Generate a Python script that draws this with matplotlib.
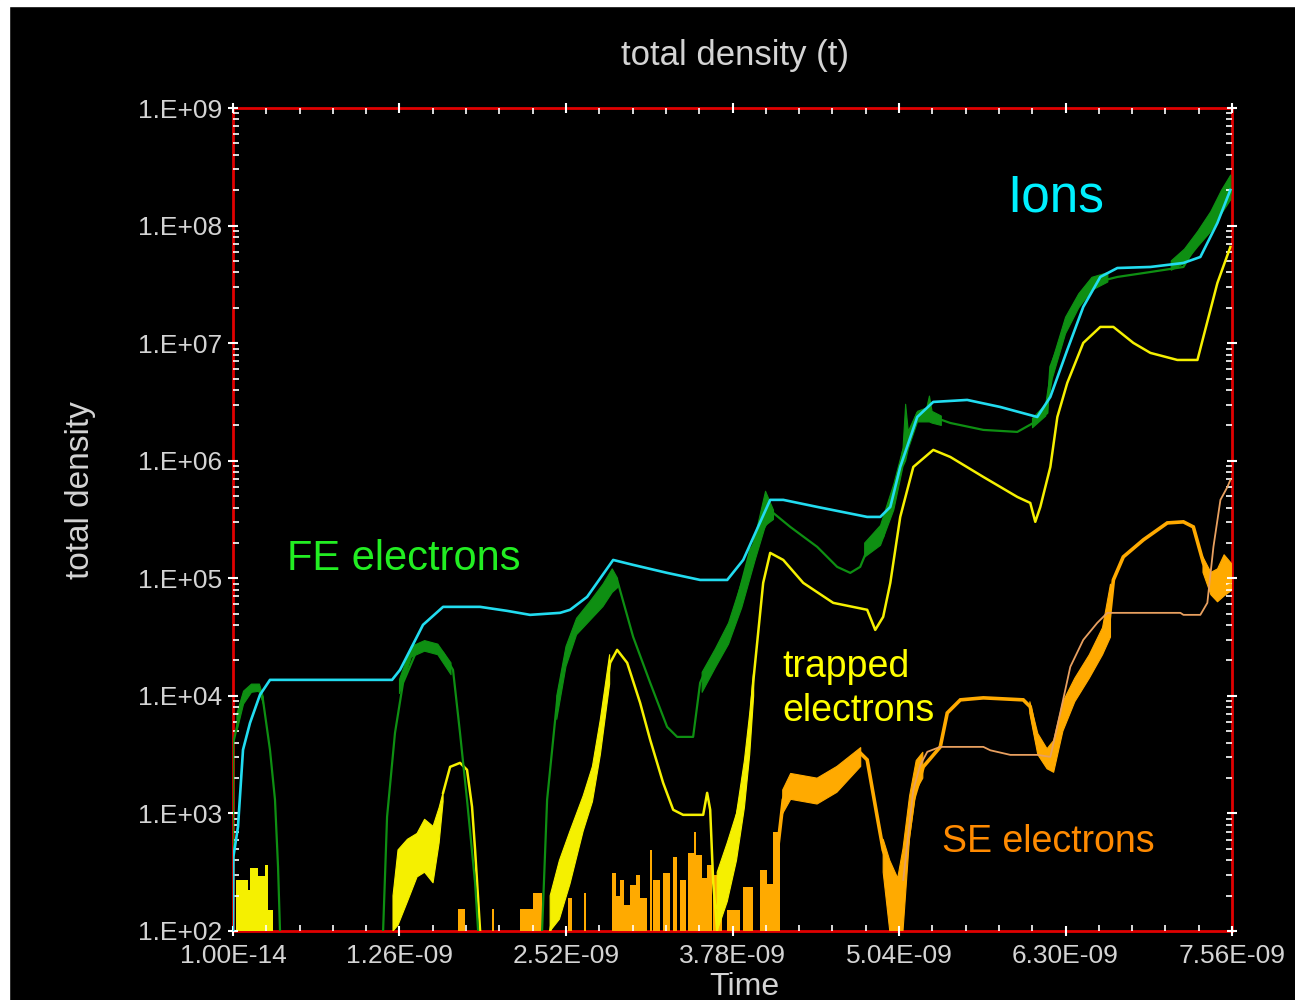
import numpy as np
import matplotlib
matplotlib.use("Agg")
import matplotlib.pyplot as plt
from matplotlib import font_manager
from matplotlib.patches import Rectangle
from matplotlib.ticker import FixedLocator, LogLocator, NullFormatter

NAN = np.nan

# ---------------- data (time in ns, density as log10) ----------------
ions_t = [0.0, 0.003, 0.038, 0.076, 0.129, 0.204, 0.280, 1.204, 1.264, 1.438, 1.590, 1.870,
          2.074, 2.248, 2.475, 2.551, 2.680, 2.877, 3.028, 3.285, 3.535, 3.740, 3.861, 4.065,
          4.164, 4.421, 4.799, 4.898, 4.974, 5.049, 5.178, 5.299, 5.556, 5.806, 6.086, 6.185,
          6.313, 6.434, 6.563, 6.692, 6.942, 7.192, 7.320, 7.449, 7.547]
ions_log = [2.0, 2.63, 2.886, 3.541, 3.770, 4.008, 4.136, 4.136, 4.221, 4.604, 4.757, 4.757,
            4.723, 4.689, 4.706, 4.732, 4.842, 5.156, 5.114, 5.046, 4.986, 4.986, 5.156, 5.667,
            5.667, 5.607, 5.522, 5.522, 5.607, 5.947, 6.372, 6.500, 6.517, 6.457, 6.372, 6.543,
            6.942, 7.308, 7.563, 7.639, 7.648, 7.682, 7.733, 8.022, 8.303]

fe_t = [0.0, 0.002, 0.030, 0.076, 0.182, 0.227, 0.280, 0.318, 0.341, 0.356, NAN,
        1.136, 1.166, 1.226, 1.287, 1.393, 1.514, 1.590, 1.665, 1.718, 1.771, 1.832, 1.855, NAN,
        2.339, 2.377, 2.453, 2.528, 2.650, 2.778, 2.907, 3.028, 3.157, 3.285, 3.361, 3.482,
        3.535, 3.588, 3.740, 3.815, 3.914, 4.088, 4.217, 4.421, 4.572, 4.671, 4.746, 4.799,
        4.920, 4.996, 5.072, 5.178, 5.299, 5.428, 5.678, 5.935, 6.056, 6.162, 6.185, 6.313,
        6.434, 6.510, 6.692, 6.942, 7.192, 7.267, 7.396, 7.525, 7.563]
fe_log = [2.0, 3.600, 3.736, 3.991, 4.085, 3.966, 3.541, 3.116, 2.546, 2.0, NAN,
          2.0, 2.971, 3.685, 4.111, 4.391, 4.417, 4.366, 4.221, 3.685, 3.116, 2.410, 2.0, NAN,
          2.0, 3.116, 3.966, 4.391, 4.672, 4.816, 4.986, 4.502, 4.111, 3.736, 3.651, 3.651,
          4.111, 4.247, 4.502, 4.816, 5.241, 5.556, 5.437, 5.267, 5.097, 5.046, 5.097, 5.241,
          5.352, 5.667, 6.092, 6.406, 6.372, 6.321, 6.262, 6.245, 6.321, 6.406, 6.798, 7.172,
          7.393, 7.512, 7.563, 7.605, 7.648, 7.793, 7.988, 8.218, 8.303]

fe_band_t = [0.03, 0.08, 0.14, 0.20, 0.23, NAN,
             1.26, 1.35, 1.45, 1.55, 1.65, NAN,
             2.45, 2.52, 2.60, 2.70, 2.80, 2.87, 2.91, NAN,
             3.55, 3.65, 3.75, 3.85, 3.95, 4.03, 4.09, NAN,
             4.78, 4.90, 5.00, 5.07, 5.09, 5.11, 5.18, 5.25, 5.27, 5.29, 5.36, NAN,
             6.05, 6.15, 6.20, 6.30, 6.40, 6.50, 6.62, NAN,
             7.10, 7.20, 7.30, 7.40, 7.48, 7.55]
fe_band_lo = [3.70, 3.93, 4.03, 4.04, 3.93, NAN,
              4.02, 4.33, 4.38, 4.35, 4.18, NAN,
              3.80, 4.25, 4.52, 4.64, 4.76, 4.88, 4.92, NAN,
              4.03, 4.24, 4.44, 4.75, 5.15, 5.45, 5.50, NAN,
              5.18, 5.28, 5.58, 5.95, 6.00, 6.10, 6.33, 6.33, 6.33, 6.32, 6.30, NAN,
              6.28, 6.38, 6.70, 7.08, 7.30, 7.45, 7.52, NAN,
              7.62, 7.68, 7.82, 7.95, 8.10, 8.22]
fe_band_hi = [3.85, 4.04, 4.10, 4.10, 3.99, NAN,
              4.14, 4.42, 4.47, 4.44, 4.28, NAN,
              4.00, 4.42, 4.66, 4.80, 4.95, 5.08, 5.00, NAN,
              4.20, 4.40, 4.62, 4.97, 5.35, 5.74, 5.58, NAN,
              5.30, 5.45, 5.80, 6.10, 6.48, 6.25, 6.42, 6.45, 6.55, 6.42, 6.38, NAN,
              6.36, 6.48, 6.85, 7.22, 7.42, 7.56, 7.60, NAN,
              7.70, 7.80, 7.95, 8.12, 8.30, 8.43]

trap_t = [1.590, 1.643, 1.718, 1.771, 1.809, 1.832, 1.870, NAN,
          2.400, 2.528, 2.650, 2.725, 2.778, 2.854, 2.907, 2.983, 3.081, 3.157, 3.255, 3.331,
          3.406, 3.558, 3.588, 3.611, 3.634, 3.664, NAN,
          3.664, 3.785, 3.891, 3.936, 4.012, 4.065, 4.164, 4.315, 4.542, 4.799, 4.860, 4.920,
          4.974, 5.049, 5.148, 5.299, 5.428, 5.678, 5.935, 6.033, 6.071, 6.109, 6.185, 6.238,
          6.313, 6.434, 6.563, 6.662, 6.813, 6.942, 7.146, 7.298, 7.343, 7.449, 7.547]
trap_log = [3.175, 3.396, 3.430, 3.371, 3.056, 2.690, 2.0, NAN,
            2.0, 2.690, 3.031, 3.260, 3.685, 4.281, 4.391, 4.281, 3.940, 3.626, 3.260, 3.031,
            2.988, 2.988, 3.175, 3.031, 2.410, 2.0, NAN,
            2.2, 2.835, 3.396, 4.111, 4.961, 5.216, 5.156, 4.961, 4.791, 4.732, 4.561, 4.672,
            4.961, 5.522, 5.947, 6.092, 6.032, 5.862, 5.692, 5.641, 5.480, 5.607, 5.947, 6.372,
            6.662, 7.002, 7.138, 7.138, 7.002, 6.917, 6.857, 6.857, 7.053, 7.512, 7.818]

trap_band_t = [1.211, 1.249, 1.320, 1.393, 1.450, 1.514, 1.560, 1.590, NAN,
               2.40, 2.47, 2.55, 2.65, 2.72, 2.78, 2.85, NAN,
               3.664, 3.74, 3.81, 3.87, 3.91, 3.94]
trap_band_lo = [2.0, 2.05, 2.25, 2.46, 2.50, 2.41, 2.75, 3.10, NAN,
                2.0, 2.1, 2.4, 2.85, 3.1, 3.5, 4.1, NAN,
                2.0, 2.25, 2.6, 3.05, 3.5, 4.0]
trap_band_hi = [2.3, 2.69, 2.78, 2.83, 2.95, 2.89, 3.05, 3.18, NAN,
                2.3, 2.6, 2.85, 3.15, 3.4, 3.8, 4.35, NAN,
                2.5, 2.75, 3.0, 3.45, 3.85, 4.2]

trap_spike_t = [0.023, 0.114, 0.129, 0.189, 0.242, 0.265, 0.303]
trap_spike_top = [2.43, 2.35, 2.54, 2.47, 2.56, 2.18, 2.0]

se_spike_t = [1.703, 1.756, 1.961, 1.976, 2.173, 2.271, 2.339, 2.536, 2.566, 2.657, 2.672,
              2.869, 2.900, 2.930, 2.960, 3.005, 3.050, 3.080, 3.134, 3.157, 3.172, 3.179,
              3.232, 3.255, 3.308, 3.331, 3.361, 3.384, 3.429, 3.444, 3.490, 3.505, 3.550,
              3.588, 3.626, 3.634, 3.702, 3.740, 3.838, 3.861, 3.936, 3.989, 4.040, 4.088, 4.141]
se_spike_top = [2.19, 2.0, 2.19, 2.0, 2.19, 2.32, 2.0, 2.28, 2.0, 2.32, 2.0,
                2.49, 2.30, 2.43, 2.22, 2.39, 2.48, 2.28, 2.0, 2.69, 2.0, 2.43,
                2.0, 2.49, 2.0, 2.63, 2.0, 2.43, 2.0, 2.66, 2.84, 2.65, 2.45,
                2.56, 2.0, 2.48, 2.0, 2.18, 2.0, 2.37, 2.0, 2.52, 2.40, 2.84, 2.0]

se_t = [4.111, 4.164, 4.217, 4.421, 4.572, 4.746, 4.799, 4.875, 4.920, 4.974, 5.027, 5.072,
        5.148, 5.223, 5.352, 5.405, 5.504, 5.678, 5.980, 6.033, 6.086, 6.162, 6.207, 6.283,
        6.434, 6.616, 6.662, 6.737, 6.889, 7.070, 7.192, 7.267, 7.343, 7.419, 7.472, 7.547]
se_log = [2.60, 3.116, 3.260, 3.218, 3.311, 3.515, 3.456, 2.971, 2.690, 2.520, 2.180, 2.461,
          3.116, 3.396, 3.566, 3.855, 3.966, 3.983, 3.966, 3.907, 3.600, 3.481, 3.515, 3.855,
          4.136, 4.502, 4.986, 5.182, 5.327, 5.471, 5.480, 5.437, 5.131, 4.961, 4.901, 4.940]

se_band_t = [4.16, 4.22, 4.42, 4.57, 4.75, NAN,
             4.92, 4.97, 5.03, 5.07, 5.12, 5.17, 5.22, NAN,
             6.03, 6.09, 6.16, 6.21, 6.28, 6.37, 6.48, 6.58, 6.64, NAN,
             7.34, 7.40, 7.45, 7.50, 7.56]
se_band_lo = [3.00, 3.12, 3.08, 3.18, 3.40, NAN,
              2.5, 2.0, 2.0, 2.0, 2.8, 3.2, 3.3, NAN,
              3.85, 3.50, 3.38, 3.35, 3.70, 3.95, 4.15, 4.35, 4.50, NAN,
              5.05, 4.86, 4.80, 4.85, 4.90]
se_band_hi = [3.20, 3.34, 3.30, 3.40, 3.56, NAN,
              2.78, 2.6, 2.45, 2.7, 3.15, 3.45, 3.52, NAN,
              3.95, 3.68, 3.55, 3.62, 3.95, 4.15, 4.35, 4.58, 4.95, NAN,
              5.18, 5.05, 5.08, 5.20, 5.12]

se2_t = [5.072, 5.148, 5.201, 5.254, 5.352, 5.678, 5.731, 5.882, 6.086, 6.185, 6.260, 6.336,
         6.434, 6.540, 6.616, 6.942, 7.169, 7.192, 7.320, 7.373, 7.419, 7.472, 7.525, 7.547]
se2_log = [2.435, 3.201, 3.413, 3.524, 3.566, 3.566, 3.537, 3.498, 3.498, 3.481, 3.855, 4.247,
           4.476, 4.621, 4.706, 4.706, 4.706, 4.689, 4.689, 4.791, 5.267, 5.667, 5.777, 5.837]

x_ticks_ns = [1.0e-5, 1.26, 2.52, 3.78, 5.04, 6.30, 7.56]
x_tick_labels = ["1.00E-14", "1.26E-09", "2.52E-09", "3.78E-09", "5.04E-09", "6.30E-09", "7.56E-09"]
y_ticks = [1e2, 1e3, 1e4, 1e5, 1e6, 1e7, 1e8, 1e9]
y_tick_labels = ["1.E+02", "1.E+03", "1.E+04", "1.E+05", "1.E+06", "1.E+07", "1.E+08", "1.E+09"]

# ---------------- styling ----------------
names = {f.name for f in font_manager.fontManager.ttflist}
axis_font = "Liberation Sans Narrow" if "Liberation Sans Narrow" in names else "Liberation Sans"
label_font = "Liberation Sans"

C_ION = "#22dcf0"
C_FE = "#0e8f12"
C_TRAP = "#f5f000"
C_SE = "#ffaa00"
C_SE2 = "#e8a060"
GRAY = "#d4d4d4"

def ts(v):
    return np.array(v, dtype=float) * 1e-9

def dens(v):
    return 10.0 ** np.array(v, dtype=float)

fig = plt.figure(figsize=(12.95, 10.0), dpi=100, facecolor="black")
ax = fig.add_axes([0.1799, 0.069, 0.7715, 0.823])
ax.set_facecolor("black")
ax.set_yscale("log")

# noise fills
ax.fill_between(ts(trap_spike_t), 1e2, dens(trap_spike_top), step="post", color=C_TRAP, lw=0)
ax.fill_between(ts(se_spike_t), 1e2, dens(se_spike_top), step="post", color=C_SE, lw=0)

# lines and bands
ax.fill_between(ts(se_band_t), dens(se_band_lo), dens(se_band_hi), color=C_SE, lw=0.8, edgecolor=C_SE)
ax.plot(ts(se_t), dens(se_log), color=C_SE, lw=2.6, solid_joinstyle="miter")
ax.plot(ts(se2_t), dens(se2_log), color=C_SE2, lw=1.3)

ax.fill_between(ts(trap_band_t), dens(trap_band_lo), dens(trap_band_hi), color=C_TRAP, lw=0.8, edgecolor=C_TRAP)
ax.plot(ts(trap_t), dens(trap_log), color=C_TRAP, lw=1.8)

ax.fill_between(ts(fe_band_t), dens(fe_band_lo), dens(fe_band_hi), color=C_FE, lw=0.8, edgecolor=C_FE)
ax.plot(ts(fe_t), dens(fe_log), color=C_FE, lw=1.6)

ax.plot(ts(ions_t), dens(ions_log), color=C_ION, lw=1.9)

ax.set_xlim(1e-14, 7.56e-9)
ax.set_ylim(1e2, 1e9)

for s in ax.spines.values():
    s.set_color("#e00000")
    s.set_linewidth(2.0)
    s.set_zorder(0.5)

ax.xaxis.set_major_locator(FixedLocator(list(ts(x_ticks_ns))))
ax.set_xticklabels(x_tick_labels)
ax.xaxis.set_minor_locator(FixedLocator(list(ts(np.arange(0, 7.57, 0.252)))))
ax.set_yticks(y_ticks)
ax.set_yticklabels(y_tick_labels)
ax.yaxis.set_minor_locator(LogLocator(base=10, subs=np.arange(2, 10)))
ax.yaxis.set_minor_formatter(NullFormatter())

ax.tick_params(axis="both", which="major", direction="inout", length=7, width=1.5, color="white",
               labelcolor=GRAY, labelsize=19, top=True, right=True)
ax.tick_params(axis="both", which="minor", direction="in", length=4, width=1.2, color="white",
               top=True, right=True)
ax.tick_params(axis="x", which="major", pad=6)
ax.tick_params(axis="y", which="major", pad=4)
for lab in ax.get_xticklabels() + ax.get_yticklabels():
    lab.set_fontfamily(axis_font)

# titles and labels
fig.text(0.5676, 0.945, "total density (t)", color=GRAY, fontsize=25, family=axis_font,
         ha="center", va="center")
fig.text(0.0618, 0.51, "total density", color=GRAY, fontsize=24, family=axis_font,
         rotation=90, ha="center", va="center")
fig.text(0.5745, 0.013, "Time", color=GRAY, fontsize=23, family=axis_font,
         ha="center", va="center")

# annotations
ax.text(5.859e-9, 10 ** 8.116, "Ions", color="#00f0ff", fontsize=37, family=label_font,
        ha="left", va="baseline")
ax.text(0.409e-9, 10 ** 5.071, "FE electrons", color="#22ee22", fontsize=30, family=label_font,
        ha="left", va="baseline")
ax.text(4.156e-9, 10 ** 4.162, "trapped", color="#ffff00", fontsize=27, family=label_font,
        ha="left", va="baseline")
ax.text(4.156e-9, 10 ** 3.788, "electrons", color="#ffff00", fontsize=27, family=label_font,
        ha="left", va="baseline")
ax.text(5.367e-9, 10 ** 2.673, "SE electrons", color="#ff8a00", fontsize=27, family=label_font,
        ha="left", va="baseline")

# screenshot border strips
fig.patches.append(Rectangle((0, 0.994), 1, 0.006, transform=fig.transFigure, color="white", zorder=5))
fig.patches.append(Rectangle((0, 0), 0.007, 1, transform=fig.transFigure, color="white", zorder=5))

fig.savefig("out.png", dpi=100, facecolor="black")
